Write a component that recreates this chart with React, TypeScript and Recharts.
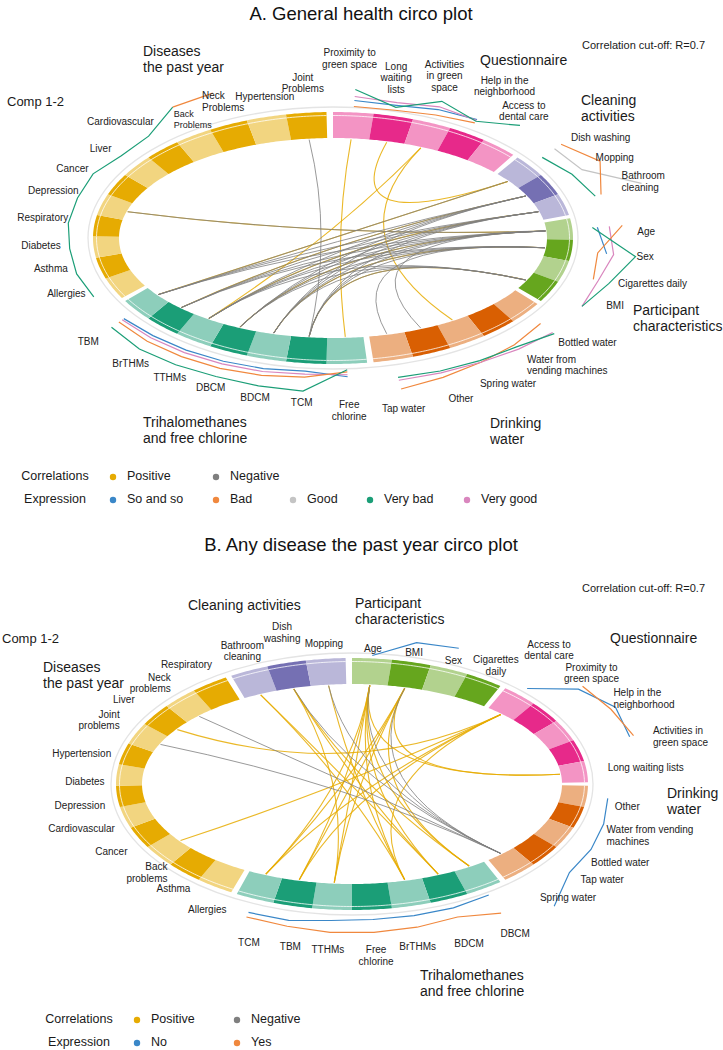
import React from 'react'
import { PieChart, Pie, Customized } from 'recharts'

const W = 723
const H = 1050
const FONT = '"Liberation Sans", Arial, sans-serif'
const RAD = Math.PI / 180
const GAP = 0.16

// Ring groups, listed clockwise from 12 o'clock. "\n" breaks a label.
const aQuestionnaire = ['Proximity to\ngreen space', 'Long\nwaiting\nlists', 'Activities\nin green\nspace', 'Help in the\nneighborhood', 'Access to\ndental care']
const aCleaning = ['Dish washing', 'Mopping', 'Bathroom\ncleaning']
const aParticipant = ['Age', 'Sex', 'Cigarettes daily', 'BMI']
const aDrinking = ['Bottled water', 'Water from\nvending machines', 'Spring water', 'Other', 'Tap water']
const aThm = ['Free\nchlorine', 'TCM', 'BDCM', 'DBCM', 'TTHMs', 'BrTHMs', 'TBM']
const aDiseases = ['Allergies', 'Asthma', 'Diabetes', 'Respiratory', 'Depression', 'Cancer', 'Liver', 'Cardiovascular', 'Back\nProblems', 'Neck\nProblems', 'Hypertension', 'Joint\nProblems']

const bParticipant = ['Age', 'BMI', 'Sex', 'Cigarettes\ndaily']
const bQuestionnaire = ['Access to\ndental care', 'Proximity to\ngreen space', 'Help in the\nneighborhood', 'Activities in\ngreen space', 'Long waiting lists']
const bDrinking = ['Other', 'Water from vending\nmachines', 'Bottled water', 'Tap water', 'Spring water']
const bThm = ['DBCM', 'BDCM', 'BrTHMs', 'Free\nchlorine', 'TTHMs', 'TBM', 'TCM']
const bDiseases = ['Allergies', 'Asthma', 'Back\nproblems', 'Cancer', 'Cardiovascular', 'Depression', 'Diabetes', 'Hypertension', 'Joint\nproblems', 'Liver', 'Neck\nproblems', 'Respiratory']
const bCleaning = ['Bathroom\ncleaning', 'Dish\nwashing', 'Mopping']

// Expression tracks: distance outside the ring for each variable of a group
const aExprDiseasesVeryBad = [21, 24, 24, 26, 25, 25, 18, 19, 35, null, null, null]
const aExprDiseasesBad = [null, null, null, null, null, null, null, null, 35, 35, null, null]
const aExprQuestVeryBad = [23, 9, 24, 15, 30]
const aExprQuestVeryGood = [16, 14, 18, 16, null]
const aExprQuestSoSo = [12, 11, 15, 17, null]
const aExprQuestBad = [6, 6, 9, 13, null]
const aExprCleanVeryBad = [15, 24, 32]
const aExprCleanGood = [30, 35, 80]
const aExprCleanBad = [38, 55, 38]
const aExprPartVeryBad = [20, 64, 46, 35]
const aExprPartBad = [50, 26, 30, null]
const aExprPartVeryGood = [37, 42, 35, 35]
const aExprPartSoSo = [25, 35, null, null]
const aExprDrinkVeryBad = [35, 25, 22, 20, 18]
const aExprDrinkVeryGood = [33, 28, 24, 22, 21]
const aExprDrinkBad = [18, 22, 24, 27, 30]
const aExprThmVeryBad = [6, 28, 28, 28, 30, 32, 30]
const aExprThmSoSo = [13, 8, 10, 11, 12, 13, 15]
const aExprThmVeryGood = [11, 11, 13, 14, 15, 16, 17]
const aExprThmBad = [8, 14, 17, 19, 20, 21, 21]

const bExprPartNo = [3, 20, 23, null]
const bExprQuestNo = [10, 40, 55, 52, null]
const bExprQuestYes = [null, 45, 50, 56, null]
const bExprDrinkNo = [21, 25, 28, 29, 48]
const bExprThmNo = [8, 10, 10, 10, 11, 15, 15]
const bExprThmYes = [30, 20, 22, 23, 23, 21, 20]

// Correlations above the cut-off (pairs of variables)
const aPositive: [string, string][] = [
  ['Proximity to green space', 'Free chlorine'],
  ['Long waiting lists', 'Dish washing'],
  ['Activities in green space', 'Spring water'],
  ['Activities in green space', 'TTHMs'],
  ['Depression', 'Age'],
  ['Dish washing', 'TBM'],
  ['Mopping', 'BrTHMs'],
  ['Bathroom cleaning', 'TTHMs'],
  ['Age', 'DBCM'],
  ['Sex', 'BDCM'],
  ['BMI', 'TCM'],
]
const aNegative: [string, string][] = [
  ['Mopping', 'TBM'], ['Mopping', 'BrTHMs'], ['Mopping', 'TTHMs'], ['Mopping', 'DBCM'], ['Mopping', 'BDCM'],
  ['Bathroom cleaning', 'TBM'], ['Bathroom cleaning', 'BrTHMs'], ['Bathroom cleaning', 'TTHMs'], ['Bathroom cleaning', 'DBCM'], ['Bathroom cleaning', 'BDCM'], ['Bathroom cleaning', 'TCM'],
  ['Age', 'TBM'], ['Age', 'BrTHMs'], ['Age', 'TTHMs'], ['Age', 'DBCM'], ['Age', 'BDCM'], ['Age', 'TCM'],
  ['Sex', 'BrTHMs'], ['Sex', 'TTHMs'], ['Sex', 'DBCM'], ['Sex', 'BDCM'], ['Sex', 'TCM'],
  ['BMI', 'TTHMs'], ['BMI', 'DBCM'], ['BMI', 'BDCM'], ['BMI', 'TCM'],
  ['Dish washing', 'TBM'],
  ['Joint Problems', 'TCM'],
  ['Depression', 'Age'],
  ['Sex', 'Tap water'],
  ['Age', 'Other'],
]

const bPositive: [string, string][] = [
  ['Bathroom cleaning', 'BrTHMs'], ['Bathroom cleaning', 'BDCM'],
  ['Dish washing', 'DBCM'], ['Dish washing', 'BDCM'], ['Dish washing', 'TTHMs'],
  ['Mopping', 'BrTHMs'],
  ['Age', 'TCM'], ['Age', 'TBM'], ['Age', 'TTHMs'], ['Age', 'BrTHMs'], ['Age', 'BDCM'], ['Age', 'DBCM'],
  ['BMI', 'TCM'], ['BMI', 'TBM'], ['BMI', 'TTHMs'], ['BMI', 'DBCM'],
  ['Access to dental care', 'Back problems'], ['Access to dental care', 'Liver'],
  ['Access to dental care', 'TCM'], ['Access to dental care', 'TBM'], ['Access to dental care', 'BrTHMs'],
  ['Long waiting lists', 'Age'], ['Long waiting lists', 'BMI'],
]
const bNegative: [string, string][] = [
  ['Neck problems', 'Spring water'],
  ['Joint problems', 'Spring water'],
  ['Mopping', 'Spring water'],
  ['Age', 'Spring water'],
  ['BMI', 'Spring water'],
  ['Dish washing', 'Spring water'],
]

const GROUP_COLORS: Record<string, { dark: string; light: string }> = {
  yellow: { dark: '#e6ab02', light: '#f2d580' },
  teal: { dark: '#1b9e77', light: '#8dcebb' },
  orange: { dark: '#d95f02', light: '#ecaf80' },
  green: { dark: '#66a61e', light: '#b2d28e' },
  purple: { dark: '#7570b3', light: '#bab7d9' },
  pink: { dark: '#e7298a', light: '#f394c4' },
}
const EXPR_COLORS: Record<string, string> = {
  'So and so': '#3a87c8',
  Bad: '#f0883e',
  Good: '#c4c4c4',
  'Very bad': '#1b9e77',
  'Very good': '#d986be',
  No: '#3a87c8',
  Yes: '#f0883e',
}
const POS = '#e6ab02'
const NEG = '#7f7f7f'

type Seg = { id: string; text: string; group: string; shade: 'light' | 'dark' | 'gap'; value: number }
type LabelCfg = { ox: number; oy: number; mode: 'middle' | 'side'; thr: number }
type Nudge = [number, number, number?, string?]
type Plot = {
  cx: number; cy: number; rx: number; ry: number; thick: number; start: number
  segs: Seg[]
  labelCfg: Record<string, LabelCfg>
  nudge: Record<string, Nudge>
  expr: { group: string; level: string; d: (number | null)[] }[]
  positive: [string, string][]
  negative: [string, string][]
}

const flat = (s: string) => s.replace(/\n/g, ' ')

function buildSegments(groups: [string, string[]][]): Seg[] {
  const out: Seg[] = []
  groups.forEach(([g, labels]) => {
    labels.forEach((t, i) => out.push({ id: flat(t), text: t, group: g, shade: i % 2 === 0 ? 'light' : 'dark', value: 1 }))
    out.push({ id: g + '-gap', text: '', group: g, shade: 'gap', value: GAP })
  })
  return out
}

// same proportional layout the Pie uses, for chords and tracks
function midAngles(p: Plot) {
  const total = p.segs.reduce((s, d) => s + d.value, 0)
  let acc = 0
  const m: Record<string, number> = {}
  p.segs.forEach(d => {
    m[d.id] = p.start - (360 * (acc + d.value / 2)) / total
    acc += d.value
  })
  return m
}

function ept(p: Plot, a: number, d: number, dy = d) {
  return { x: p.cx + (p.rx + d) * Math.cos(a * RAD), y: p.cy - (p.ry + dy) * Math.sin(a * RAD) }
}

function arcPts(p: Plot, a0: number, a1: number, d: number, n = 14) {
  const pts = []
  for (let i = 0; i <= n; i++) pts.push(ept(p, a0 + ((a1 - a0) * i) / n, d))
  return pts
}

const toPath = (pts: { x: number; y: number }[]) => 'M' + pts.map(q => `${q.x.toFixed(2)},${q.y.toFixed(2)}`).join('L')

const aSegs = buildSegments([
  ['pink', aQuestionnaire], ['purple', aCleaning], ['green', aParticipant],
  ['orange', aDrinking], ['teal', aThm], ['yellow', aDiseases],
])
const bSegs = buildSegments([
  ['green', bParticipant], ['pink', bQuestionnaire], ['orange', bDrinking],
  ['teal', bThm], ['yellow', bDiseases], ['purple', bCleaning],
])

const plotA: Plot = {
  cx: 333, cy: 238, rx: 240, ry: 126, thick: 26, start: 90,
  segs: aSegs,
  labelCfg: {
    pink: { ox: 50, oy: 50, mode: 'middle', thr: 0 },
    purple: { ox: 50, oy: 50, mode: 'side', thr: 0.3 },
    green: { ox: 65, oy: 65, mode: 'side', thr: 0.3 },
    orange: { ox: 40, oy: 50, mode: 'side', thr: 0.3 },
    teal: { ox: 40, oy: 40, mode: 'middle', thr: 0 },
    yellow: { ox: 30, oy: 30, mode: 'side', thr: 0.3 },
  },
  // small hand placements where the original labels were pushed apart
  nudge: {
    Allergies: [0, -7], Asthma: [-3, -7], Diabetes: [-3, -4], Respiratory: [4, -5], Depression: [6, -6], Cancer: [0, -3],
    Cardiovascular: [13, -7], 'Back Problems': [-2, 8, 9, 'start'], 'Neck Problems': [-13, 4, 10, 'start'], Hypertension: [7, 8],
    'Proximity to green space': [-8, -4], 'Long waiting lists': [-10, 10], 'Activities in green space': [-8, -2],
    'Help in the neighborhood': [9, -6], 'Access to dental care': [-10, 0],
    Mopping: [0, -6], 'Bathroom cleaning': [9, -10],
    Age: [0, 7], 'Cigarettes daily': [-9, -5], BMI: [-3, -14],
    'Spring water': [-10, 0],
    'Free chlorine': [0, 7], TTHMs: [0, 5], BrTHMs: [-3, 9], TBM: [-15, 9],
  },
  expr: [
    { group: 'yellow', level: 'Very bad', d: aExprDiseasesVeryBad },
    { group: 'yellow', level: 'Bad', d: aExprDiseasesBad },
    { group: 'pink', level: 'Bad', d: aExprQuestBad },
    { group: 'pink', level: 'So and so', d: aExprQuestSoSo },
    { group: 'pink', level: 'Very good', d: aExprQuestVeryGood },
    { group: 'pink', level: 'Very bad', d: aExprQuestVeryBad },
    { group: 'purple', level: 'Very bad', d: aExprCleanVeryBad },
    { group: 'purple', level: 'Good', d: aExprCleanGood },
    { group: 'purple', level: 'Bad', d: aExprCleanBad },
    { group: 'green', level: 'So and so', d: aExprPartSoSo },
    { group: 'green', level: 'Very good', d: aExprPartVeryGood },
    { group: 'green', level: 'Bad', d: aExprPartBad },
    { group: 'green', level: 'Very bad', d: aExprPartVeryBad },
    { group: 'orange', level: 'Bad', d: aExprDrinkBad },
    { group: 'orange', level: 'Very good', d: aExprDrinkVeryGood },
    { group: 'orange', level: 'Very bad', d: aExprDrinkVeryBad },
    { group: 'teal', level: 'So and so', d: aExprThmSoSo },
    { group: 'teal', level: 'Very good', d: aExprThmVeryGood },
    { group: 'teal', level: 'Bad', d: aExprThmBad },
    { group: 'teal', level: 'Very bad', d: aExprThmVeryBad },
  ],
  positive: aPositive,
  negative: aNegative,
}

const plotB: Plot = {
  cx: 352, cy: 784, rx: 236, ry: 126, thick: 26, start: 90,
  segs: bSegs,
  labelCfg: {
    green: { ox: 10, oy: 10, mode: 'middle', thr: 0 },
    pink: { ox: 45, oy: 45, mode: 'side', thr: 0.9 },
    orange: { ox: 28, oy: 35, mode: 'side', thr: 0.3 },
    teal: { ox: 48, oy: 40, mode: 'middle', thr: 0 },
    yellow: { ox: 12, oy: 22, mode: 'side', thr: 0.3 },
    purple: { ox: 15, oy: 15, mode: 'middle', thr: 0 },
  },
  nudge: {
    'Cigarettes daily': [6, -6],
    'Bathroom cleaning': [0, -6], 'Dish washing': [0, -16],
    DBCM: [4, 12], BDCM: [0, 8], BrTHMs: [-6, 2], 'Free chlorine': [0, 6], TCM: [14, 7], TBM: [10, 2],
    Other: [0, 7], 'Water from vending machines': [0, 9], 'Bottled water': [0, 10], 'Tap water': [12, 3],
    Allergies: [19, 5], Asthma: [15, 1], 'Back problems': [19, 4], Cancer: [0, 5], Cardiovascular: [2, 5],
    Depression: [0, 7], Diabetes: [0, 8], Hypertension: [0, 5], 'Joint problems': [-5, -5], Liver: [-10, -3],
    Respiratory: [10, -2],
    'Access to dental care': [-3, -14], 'Proximity to green space': [9, -13], 'Help in the neighborhood': [7, -13],
    'Activities in green space': [30, -2], 'Long waiting lists': [-24, 0],
  },
  expr: [
    { group: 'green', level: 'No', d: bExprPartNo },
    { group: 'pink', level: 'No', d: bExprQuestNo },
    { group: 'pink', level: 'Yes', d: bExprQuestYes },
    { group: 'orange', level: 'No', d: bExprDrinkNo },
    { group: 'teal', level: 'No', d: bExprThmNo },
    { group: 'teal', level: 'Yes', d: bExprThmYes },
  ],
  positive: bPositive,
  negative: bNegative,
}

function VarLabel({ p, seg, mid }: { p: Plot; seg: Seg; mid: number }) {
  const cfg = p.labelCfg[seg.group]
  const [nx = 0, ny = 0, size = 10, forced] = p.nudge[seg.id] ?? []
  const pt = ept(p, mid, cfg.ox, cfg.oy)
  const c = Math.cos(mid * RAD)
  const anchor = forced ?? (cfg.mode === 'middle' || Math.abs(c) < cfg.thr ? 'middle' : c > 0 ? 'start' : 'end')
  const lines = seg.text.split('\n')
  const lh = size * 1.15
  const x = pt.x + nx
  const y0 = pt.y + ny - ((lines.length - 1) * lh) / 2
  return (
    <text textAnchor={anchor} fontSize={size} fill="#222" fontFamily={FONT}>
      {lines.map((l, i) => (
        <tspan key={i} x={x} y={y0 + i * lh} dy="0.35em">{l}</tspan>
      ))}
    </text>
  )
}

// Pie label hook: draws each slice as an elliptical band segment
const segmentRenderer = (p: Plot) => (props: any) => {
  const seg: Seg = props.payload ?? props
  if (!seg || seg.shade === 'gap') return <g />
  const col = GROUP_COLORS[seg.group]
  const a0 = props.startAngle
  const a1 = props.endAngle
  const outer = arcPts(p, a0, a1, 0)
  const inner = arcPts(p, a1, a0, -p.thick)
  return (
    <g>
      <path d={toPath([...outer, ...inner]) + 'Z'} fill={seg.shade === 'dark' ? col.dark : col.light} stroke="none" />
      <path d={toPath(arcPts(p, a0, a1, -3.5))} fill="none" stroke="#fff" strokeWidth={0.9} strokeOpacity={0.85} />
      <VarLabel p={p} seg={seg} mid={props.midAngle ?? (a0 + a1) / 2} />
    </g>
  )
}

function PlotLayer({ p }: { p: Plot }) {
  const m = midAngles(p)
  const chord = (a: string, b: string) => {
    if (m[a] === undefined || m[b] === undefined) return ''
    const p0 = ept(p, m[a], -p.thick - 1)
    const p2 = ept(p, m[b], -p.thick - 1)
    return `M${p0.x.toFixed(2)},${p0.y.toFixed(2)}Q${p.cx},${p.cy} ${p2.x.toFixed(2)},${p2.y.toFixed(2)}`
  }
  const exprPaths = p.expr.map((e, k) => {
    const ids = p.segs.filter(s => s.group === e.group && s.shade !== 'gap').map(s => s.id)
    let d = ''
    let pen = false
    ids.forEach((id, i) => {
      const v = e.d[i]
      if (v === null || v === undefined) { pen = false; return }
      const q = ept(p, m[id], v)
      d += `${pen ? 'L' : 'M'}${q.x.toFixed(2)},${q.y.toFixed(2)}`
      pen = true
    })
    return <path key={k} d={d} fill="none" stroke={EXPR_COLORS[e.level]} strokeWidth={1.2} />
  })
  return (
    <g>
      <ellipse cx={p.cx} cy={p.cy} rx={p.rx + 5} ry={p.ry + 5} fill="none" stroke="#e4e4e4" strokeWidth={1.3} />
      {p.positive.map(([a, b], i) => (
        <path key={'p' + i} d={chord(a, b)} fill="none" stroke={POS} strokeWidth={1.1} strokeOpacity={0.85} />
      ))}
      {p.negative.map(([a, b], i) => (
        <path key={'n' + i} d={chord(a, b)} fill="none" stroke={NEG} strokeWidth={1} strokeOpacity={0.8} />
      ))}
      {exprPaths}
    </g>
  )
}

const aTitles: [string, number, number][] = [
  ['Diseases\nthe past year', 143, 51],
  ['Questionnaire', 480, 60],
  ['Cleaning\nactivities', 581, 100],
  ['Participant\ncharacteristics', 633, 310],
  ['Drinking\nwater', 490, 423],
  ['Trihalomethanes\nand free chlorine', 143, 422],
]
const bTitles: [string, number, number][] = [
  ['Cleaning activities', 188, 605],
  ['Participant\ncharacteristics', 355, 603],
  ['Questionnaire', 610, 638],
  ['Diseases\nthe past year', 43, 667],
  ['Drinking\nwater', 667, 793],
  ['Trihalomethanes\nand free chlorine', 420, 975],
]
const corrLegend = ['Positive', 'Negative']
const aExprLegend = ['So and so', 'Bad', 'Good', 'Very bad', 'Very good']
const bExprLegend = ['No', 'Yes']

function Multi({ t, x, y, size, lh }: { t: string; x: number; y: number; size: number; lh: number }) {
  return (
    <text fontSize={size} fill="#1a1a1a" fontFamily={FONT}>
      {t.split('\n').map((l, i) => (
        <tspan key={i} x={x} y={y + i * lh} dy="0.35em">{l}</tspan>
      ))}
    </text>
  )
}

function LegendRow({ title, tx, y, items, xs, colors }: { title: string; tx: number; y: number; items: string[]; xs: number[]; colors: string[] }) {
  return (
    <g fontFamily={FONT} fontSize={12.5} fill="#1a1a1a">
      <text x={tx} y={y} dy="0.35em" textAnchor="middle">{title}</text>
      {items.map((it, i) => (
        <g key={it}>
          <circle cx={xs[i]} cy={y + 1} r={3.2} fill={colors[i]} />
          <text x={xs[i] + 14} y={y} dy="0.35em">{it}</text>
        </g>
      ))}
    </g>
  )
}

function Annotations() {
  return (
    <g>
      <text x={361} y={14} dy="0.35em" textAnchor="middle" fontSize={18.5} fontFamily={FONT} fill="#111">A. General health circo plot</text>
      <text x={361} y={545} dy="0.35em" textAnchor="middle" fontSize={18.5} fontFamily={FONT} fill="#111">B. Any disease the past year circo plot</text>
      <text x={582} y={45} dy="0.35em" fontSize={11} fontFamily={FONT} fill="#1a1a1a">Correlation  cut-off: R=0.7</text>
      <text x={582} y={588} dy="0.35em" fontSize={11} fontFamily={FONT} fill="#1a1a1a">Correlation  cut-off: R=0.7</text>
      <text x={7} y={101} dy="0.35em" fontSize={13} fontFamily={FONT} fill="#1a1a1a">Comp 1-2</text>
      <text x={2} y={638} dy="0.35em" fontSize={13} fontFamily={FONT} fill="#1a1a1a">Comp 1-2</text>
      {aTitles.map(([t, x, y]) => <Multi key={'a' + t} t={t} x={x} y={y} size={14} lh={16.5} />)}
      {bTitles.map(([t, x, y]) => <Multi key={'b' + t} t={t} x={x} y={y} size={14} lh={16.5} />)}
      <LegendRow title="Correlations" tx={55} y={476} items={corrLegend} xs={[113, 216]} colors={[POS, NEG]} />
      <LegendRow title="Expression" tx={55} y={499} items={aExprLegend} xs={[113, 216, 293, 370, 467]} colors={aExprLegend.map(l => EXPR_COLORS[l])} />
      <LegendRow title="Correlations" tx={79} y={1019} items={corrLegend} xs={[137, 237]} colors={[POS, NEG]} />
      <LegendRow title="Expression" tx={79} y={1042} items={bExprLegend} xs={[137, 237]} colors={bExprLegend.map(l => EXPR_COLORS[l])} />
    </g>
  )
}

export default function App() {
  return (
    <div style={{ position: 'absolute', left: 0, top: 0, width: W, height: H, background: '#fff' }}>
      <PieChart width={W} height={H} margin={{ top: 0, right: 0, bottom: 0, left: 0 }}>
        <Customized component={<PlotLayer p={plotA} />} />
        <Customized component={<PlotLayer p={plotB} />} />
        <Pie
          data={aSegs}
          dataKey="value"
          nameKey="id"
          cx={plotA.cx}
          cy={plotA.cy}
          innerRadius={plotA.ry - plotA.thick}
          outerRadius={plotA.ry}
          startAngle={plotA.start}
          endAngle={plotA.start - 360}
          fill="none"
          stroke="none"
          labelLine={false}
          label={segmentRenderer(plotA)}
          isAnimationActive={false}
        />
        <Pie
          data={bSegs}
          dataKey="value"
          nameKey="id"
          cx={plotB.cx}
          cy={plotB.cy}
          innerRadius={plotB.ry - plotB.thick}
          outerRadius={plotB.ry}
          startAngle={plotB.start}
          endAngle={plotB.start - 360}
          fill="none"
          stroke="none"
          labelLine={false}
          label={segmentRenderer(plotB)}
          isAnimationActive={false}
        />
        <Customized component={<Annotations />} />
      </PieChart>
    </div>
  )
}
